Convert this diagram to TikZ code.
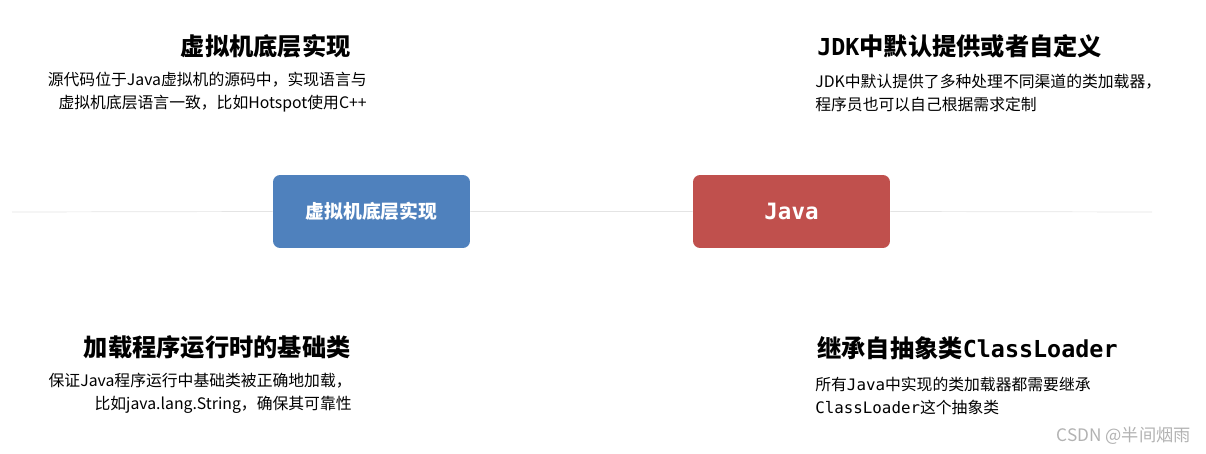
\documentclass[tikz,border=0pt]{standalone}
\usepackage{fontspec}
\setmainfont{Noto Sans CJK SC}
\setmonofont{DejaVu Sans Mono}
\definecolor{vmblue}{RGB}{79,129,189}
\definecolor{javared}{RGB}{192,80,77}
\definecolor{axisgray}{RGB}{228,228,228}
\newcommand{\headmono}[1]{{\fontsize{13.3}{16}\selectfont\ttfamily #1}}

\begin{document}
\begin{tikzpicture}[x=0.02cm, y=-0.02cm,
		boxnode/.style={rounded corners=4pt, minimum width=3.94cm, minimum height=1.46cm,
			text=white, font=\fontsize{10.7}{13}\selectfont\bfseries},
		headline/.style={inner sep=0pt, font=\fontsize{13.8}{16}\selectfont\bfseries},
		desctext/.style={inner sep=0pt, font=\fontsize{9}{13}\selectfont}
	]
		\useasboundingbox (0,0) rectangle (1206,453);

		% centre boxes
		\node[boxnode, fill=vmblue] (vmbox) at (371.5,211.5) {虚拟机底层实现};
		\node[boxnode, fill=javared, font=\fontsize{12.8}{14}\selectfont\ttfamily\bfseries]
			(javabox) at (791.5,211.5) {Java};

		% axis through the boxes
		\coordinate (axisL) at (12,212);
		\coordinate (axisR) at (1152,212);
		\draw[axisgray] (axisL) -- (vmbox.west)
			(vmbox.east) -- (javabox.west)
			(javabox.east) -- (axisR);

		% upper left
		\node[headline, anchor=east] (vmtitle) at (351,46) {虚拟机底层实现};
		\node[desctext, anchor=east, align=right] (vmdesc) at (367,92)
			{源代码位于Java虚拟机的源码中，实现语言与\\虚拟机底层语言一致，比如Hotspot使用C++};

		% upper right
		\node[headline, anchor=west] (jdktitle) at (817,46) {\headmono{JDK}中默认提供或者自定义};
		\node[desctext, anchor=west, align=left] (jdkdesc) at (815,93)
			{JDK中默认提供了多种处理不同渠道的类加载器，\\程序员也可以自己根据需求定制};

		% lower left
		\node[headline, anchor=east] (basetitle) at (351,347) {加载程序运行时的基础类};
		\node[desctext, anchor=east, align=right] (basedesc) at (352,393)
			{保证Java程序运行中基础类被正确地加载，\\比如java.lang.String，确保其可靠性};

		% lower right
		\node[headline, anchor=west] (cltitle) at (817,348) {继承自抽象类\headmono{ClassLoader}};
		\node[desctext, anchor=west, align=left] (cldesc) at (815,396)
			{所有\texttt{Java}中实现的类加载器都需要继承\\\texttt{ClassLoader}这个抽象类};

		% watermark
		\node[inner sep=0pt, anchor=east, text=gray!60, font=\fontsize{9.8}{11}\selectfont]
			(csdnmark) at (1191,436) {CSDN @半间烟雨};
\end{tikzpicture}
\end{document}
